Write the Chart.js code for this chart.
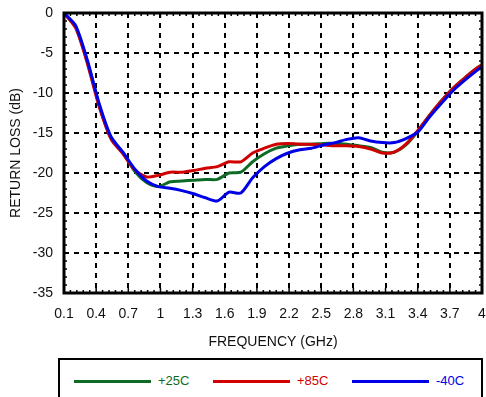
<!DOCTYPE html>
<html>
<head>
<meta charset="utf-8">
<script src="https://cdn.jsdelivr.net/npm/chart.js@4"></script>
<style>
  body { margin: 0; background: #fff; }
  #wrap { position: relative; width: 486px; height: 397px; overflow: hidden; }
  #box { position: absolute; left: 0; top: 0; width: 486px; height: 355px; }
  #legend {
    position: absolute; left: 58px; top: 358px; width: 421px; height: 50px;
    border: 2px solid #000; font-family: "Liberation Sans", Arial, sans-serif; font-size: 13px;
  }
  .item { position: absolute; top: 13px; height: 16px; line-height: 16px; }
  .item span.ln { position: absolute; top: 7px; width: 77px; height: 3px; }
  .item span.tx { position: absolute; left: 84px; white-space: nowrap; }
</style>
</head>
<body>
<div id="wrap">
  <div id="box"><canvas id="rlChart"></canvas></div>
  <div id="legend"></div>
</div>
<script>
document.addEventListener('DOMContentLoaded', function() {

  // frequency points (GHz)
  const freq = [0.1, 0.21, 0.32, 0.43, 0.54, 0.65, 0.76, 0.87, 0.98, 1.09, 1.2, 1.31,
    1.42, 1.53, 1.64, 1.75, 1.86, 1.97, 2.08, 2.19, 2.3, 2.41, 2.52, 2.63, 2.74,
    2.85, 2.96, 3.07, 3.18, 3.29, 3.4, 3.51, 3.62, 3.73, 3.84, 3.95, 4.0];

  // return loss (dB)
  const rlP25 = [0, -1.8, -6.2, -11.6, -15.7, -17.5, -19.8, -21.2, -21.7, -21.1, -21.0, -20.9,
    -20.8, -20.8, -20.0, -19.9, -18.6, -17.6, -16.9, -16.6, -16.4, -16.4, -16.3, -16.3, -16.4,
    -16.6, -16.8, -17.4, -17.4, -16.5, -14.8, -12.8, -11.0, -9.4, -8.1, -6.9, -6.5];
  const rlP85 = [0, -1.9, -6.4, -11.8, -15.8, -17.6, -19.6, -20.5, -20.3, -19.9, -19.9, -19.7,
    -19.4, -19.2, -18.6, -18.6, -17.5, -16.9, -16.4, -16.3, -16.4, -16.4, -16.5, -16.6, -16.6,
    -16.7, -17.0, -17.5, -17.4, -16.4, -14.7, -12.8, -11.0, -9.4, -8.1, -6.9, -6.5];
  const rlM40 = [0, -1.6, -6.0, -11.4, -15.5, -17.4, -19.5, -21.0, -21.7, -21.9, -22.2, -22.6,
    -23.1, -23.5, -22.4, -22.5, -20.6, -19.2, -18.2, -17.5, -17.1, -16.9, -16.5, -16.2, -15.8,
    -15.6, -16.0, -16.2, -16.2, -15.7, -14.9, -13.0, -11.3, -9.7, -8.4, -7.2, -6.7];

  const xTicks = [0.1, 0.4, 0.7, 1.0, 1.3, 1.6, 1.9, 2.2, 2.5, 2.8, 3.1, 3.4, 3.7, 4.0];
  const xTickLabels = ['0.1', '0.4', '0.7', '1', '1.3', '1.6', '1.9', '2.2', '2.5', '2.8', '3.1', '3.4', '3.7', '4'];
  const yTicks = [0, -5, -10, -15, -20, -25, -30, -35];

  const seriesNames = ['+25C', '+85C', '-40C'];
  const seriesColors = ['#0e6b25', '#d00000', '#0000e6'];
  const seriesData = [rlP25, rlP85, rlM40];

  const pts = arr => arr.map((v, i) => ({ x: freq[i], y: v }));

  const font = { family: '"Liberation Sans", Arial, sans-serif', size: 14 };

  // minor ticks + thick frame
  const framePlugin = {
    id: 'frame',
    afterDraw(chart) {
      const c = chart.ctx, a = chart.chartArea;
      const xs = chart.scales.x, ys = chart.scales.y;
      c.save();
      c.strokeStyle = '#000';
      c.lineWidth = 1.5;
      c.beginPath();
      for (let k = 0; k <= 65; k++) {
        const px = xs.getPixelForValue(0.1 + k * 0.06);
        const len = (k % 5 === 0) ? 5 : 3;
        c.moveTo(px, a.bottom); c.lineTo(px, a.bottom - len);
        c.moveTo(px, a.top); c.lineTo(px, a.top + len);
      }
      for (let k = 0; k <= 35; k++) {
        const py = ys.getPixelForValue(-k);
        const len = (k % 5 === 0) ? 5 : 3;
        c.moveTo(a.left, py); c.lineTo(a.left + len, py);
        c.moveTo(a.right, py); c.lineTo(a.right - len, py);
      }
      c.stroke();
      c.lineWidth = 3;
      c.strokeRect(a.left, a.top, a.right - a.left, a.bottom - a.top);
      c.restore();
    }
  };

  const ctx = document.getElementById('rlChart').getContext('2d');
  new Chart(ctx, {
    type: 'line',
    data: {
      datasets: [2, 1, 0].map(i => ({
        label: seriesNames[i],
        data: pts(seriesData[i]),
        borderColor: seriesColors[i],
        borderWidth: 3,
        tension: 0.25,
        pointRadius: 0
      }))
    },
    options: {
      responsive: true,
      maintainAspectRatio: false,
      animation: false,
      layout: { padding: { top: 13, right: 4, left: 4, bottom: 0 } },
      plugins: {
        legend: { display: false },
        tooltip: { enabled: false }
      },
      scales: {
        x: {
          type: 'linear',
          min: 0.1,
          max: 4.0,
          afterBuildTicks: s => { s.ticks = xTicks.map(v => ({ value: v })); },
          afterFit: s => { s.height = 355 - 293; s.paddingLeft = 0; s.paddingRight = 0; },
          border: { display: false, dash: [5, 5] },
          grid: { color: '#000', lineWidth: 2, drawTicks: false },
          ticks: {
            color: '#111', font: font, padding: 13, maxRotation: 0, autoSkip: false,
            callback: (v) => xTickLabels[xTicks.indexOf(v)]
          },
          title: { display: true, text: 'FREQUENCY (GHz)', color: '#111', font: font, padding: { top: 6 } }
        },
        y: {
          min: -35,
          max: 0,
          afterBuildTicks: s => { s.ticks = yTicks.map(v => ({ value: v })); },
          afterFit: s => { s.width = 60; s.paddingTop = 0; s.paddingBottom = 0; },
          border: { display: false, dash: [5, 5] },
          grid: { color: '#000', lineWidth: 2, drawTicks: false },
          ticks: { color: '#111', font: font, padding: 11 },
          title: { display: true, text: 'RETURN LOSS (dB)', color: '#111', font: font, padding: { bottom: 0 } }
        }
      }
    },
    plugins: [framePlugin]
  });

  // HTML legend
  const legend = document.getElementById('legend');
  const lineLeft = [14, 153, 292];
  seriesNames.forEach((name, i) => {
    const it = document.createElement('div');
    it.className = 'item';
    it.style.left = lineLeft[i] + 'px';
    it.innerHTML = '<span class="ln" style="background:' + seriesColors[i] + '"></span>' +
      '<span class="tx" style="color:' + seriesColors[i] + '">' + name + '</span>';
    legend.appendChild(it);
  });
});
</script>
</body>
</html>
